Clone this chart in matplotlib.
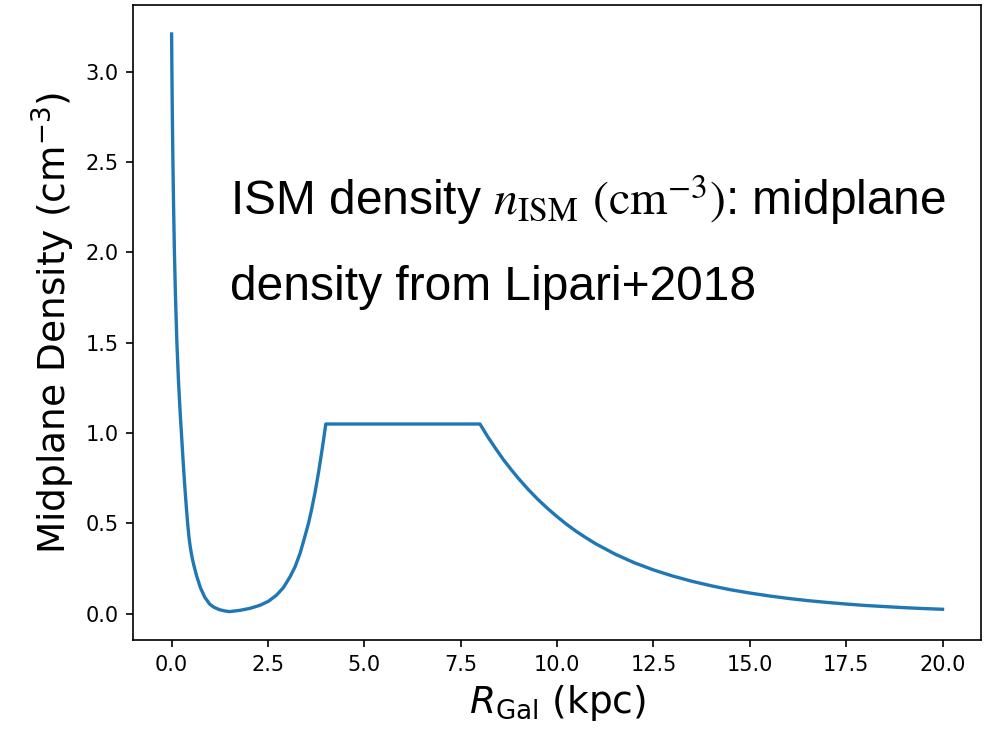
import matplotlib
matplotlib.use("Agg")
import matplotlib.pyplot as plt

# values
# inner steep fall down to the minimum near 1.5 kpc
r_inner = [0.0, 0.008, 0.02, 0.034, 0.05, 0.073, 0.10, 0.137, 0.18, 0.22, 0.26,
           0.30, 0.34, 0.38, 0.42, 0.45, 0.48, 0.51, 0.54, 0.58, 0.65, 0.75, 0.86,
           0.99, 1.10, 1.25, 1.40, 1.50]
n_inner = [3.21, 3.0, 2.74, 2.5, 2.27, 2.0, 1.76, 1.5, 1.28, 1.12, 0.98,
           0.84, 0.71, 0.595, 0.49, 0.425, 0.375, 0.336, 0.302, 0.265, 0.208, 0.142, 0.091,
           0.052, 0.035, 0.021, 0.014, 0.011]
# rise up to the flat part at 4 kpc
r_rise = [1.77, 2.03, 2.29, 2.51, 2.72, 2.90, 3.07, 3.20, 3.33, 3.43, 3.55,
          3.63, 3.72, 3.81, 3.88, 3.94, 4.0]
n_rise = [0.018, 0.029, 0.046, 0.068, 0.102, 0.144, 0.203, 0.258, 0.332, 0.406, 0.499,
          0.575, 0.67, 0.78, 0.875, 0.96, 1.05]
# flat part and outer decay
r_outer = [8.0, 8.2, 8.4, 8.6, 8.8, 9.0, 9.25, 9.5, 9.75, 10.0, 10.25, 10.5,
           10.75, 11.0, 11.5, 12.0, 12.5, 13.0, 13.5, 14.0, 14.5, 15.0, 15.5,
           16.0, 16.5, 17.0, 17.5, 18.0, 18.5, 19.0, 19.5, 20.0]
n_outer = [1.05, 0.98, 0.916, 0.855, 0.80, 0.748, 0.688, 0.633, 0.583, 0.537, 0.494, 0.455,
           0.42, 0.387, 0.33, 0.282, 0.242, 0.208, 0.179, 0.154, 0.132, 0.114, 0.098,
           0.084, 0.072, 0.062, 0.053, 0.045, 0.039, 0.033, 0.028, 0.024]

r_gal = r_inner + r_rise + r_outer
n_ism = n_inner + n_rise + n_outer

fig = plt.figure(figsize=(993 / 150, 729 / 150), dpi=150)
ax = fig.add_axes([0.134, 0.1214, 0.854, 0.8716])
ax.plot(r_gal, n_ism, color="#1f77b4", lw=1.6)

ax.set_xticks([0, 2.5, 5, 7.5, 10, 12.5, 15, 17.5, 20])
ax.set_xlabel(r"$R_{\rm Gal}$ (kpc)", fontsize=18)
ax.set_ylabel(r"Midplane Density (cm$^{-3}$)", fontsize=18)

# overlaid caption: Arial-like text with a serif math part
ax.text(0.114, 0.670, r"ISM density $n_{\mathrm{ISM}}$ $(\mathrm{cm}^{-3})$: midplane",
        transform=ax.transAxes, fontsize=23, family="Liberation Sans",
        math_fontfamily="stix", va="baseline", ha="left")
ax.text(0.114, 0.536, "density from Lipari+2018",
        transform=ax.transAxes, fontsize=23, family="Liberation Sans",
        va="baseline", ha="left")

fig.savefig("out.png", dpi=150)
